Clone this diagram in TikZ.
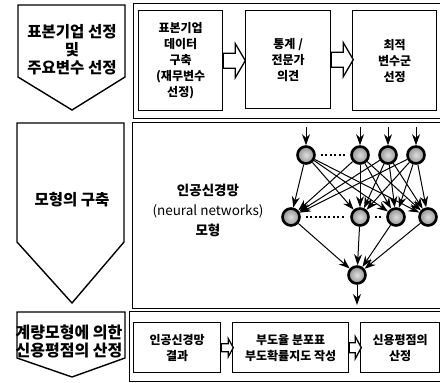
\documentclass[tikz,border=0pt]{standalone}
\usepackage{fontspec}
\setmainfont{Noto Sans CJK KR}
\usetikzlibrary{arrows.meta,calc}
\newcommand\hollowarr[5]{% #1 start, #2 length, #3 shaft half, #4 head half, #5 head length
  \draw[hollow] ($(#1)+(0,-#3)$) -- ++({#2-#5},0) -- ++(0,{-(#4-#3)})
    -- ($(#1)+(#2,0)$) -- ($(#1)+({#2-#5},#4)$) -- ++(0,{-(#4-#3)})
    -- ($(#1)+(0,#3)$) -- cycle;}
\begin{document}
\begin{tikzpicture}[x=1pt,y=-1pt,
  panel/.style={draw, line width=1.3pt, anchor=north west, inner sep=0pt},
  box/.style={draw, line width=1.3pt, anchor=north west, inner sep=1pt, align=center,
    font=\bfseries\fontsize{12}{16}\selectfont},
  penta/.style={draw, line width=1.4pt, fill=white},
  ptext/.style={align=center, inner sep=0pt},
  hollow/.style={draw, line width=1.3pt, fill=white, line join=miter},
  neuron/.style={circle, draw, line width=2.6pt, minimum size=17pt, inner sep=0pt,
    inner color=gray!25, outer color=gray!85},
  nnarrow/.style={line width=1pt, -{Stealth[length=11pt,width=8pt]}},
  dotline/.style={line width=2.2pt, dash pattern=on 2pt off 2.5pt, shorten <=5pt, shorten >=5pt}
]
\useasboundingbox (0,0) rectangle (440,383);

% ---------- left pentagon arrows ----------
\draw[penta] (18,5) -- (125,5) -- (125,77) -- (72,110) -- (18,77) -- cycle;
\draw[penta] (17,123) -- (124,123) -- (124,242) -- (72,303) -- (17,242) -- cycle;
\draw[penta] (17,312) -- (125,312) -- (125,358) -- (72,377) -- (17,358) -- cycle;

\node[ptext, font=\bfseries\fontsize{15.5}{18}\selectfont] (T1) at (72,50)
  {표본기업 선정\\및\\주요변수 선정};
\node[ptext, font=\bfseries\fontsize{15.5}{18}\selectfont] (T2) at (72,200) {모형의 구축};
\node[ptext, font=\bfseries\fontsize{16}{18}\selectfont] (T3) at (69,341)
  {계량모형에 의한\\신용평점의 산정};

% ---------- panels ----------
\node[panel, minimum width=312pt, minimum height=115pt] (P1) at (133,3) {};
\node[panel, minimum width=313pt, minimum height=186pt] (P2) at (132,122) {};
\node[panel, minimum width=316pt, minimum height=70pt] (P3) at (129,311) {};

% ---------- row 1 ----------
\node[box, minimum width=84pt, minimum height=100pt] (B1) at (138,10)
  {표본기업\\데이터\\구축\\(재무변수\\선정)};
\node[box, minimum width=85pt, minimum height=98pt] (B2) at (245,10)
  {통계 /\\전문가\\의견};
\node[box, minimum width=84pt, minimum height=100pt] (B3) at (352,10)
  {최적\\변수군\\선정};
\hollowarr{B1.east}{22}{7.5}{17}{10}
\hollowarr{B2.east}{22}{7.5}{17}{10}

% ---------- row 2 : neural network ----------
\node[ptext, font=\fontsize{13.5}{20}\selectfont] (NT) at (208,210)
  {\textbf{인공신경망}\\(neural networks)\\\textbf{모형}};

\node[neuron] (t1) at (306,155) {};
\node[neuron] (t2) at (360,155) {};
\node[neuron] (t3) at (388,155) {};
\node[neuron] (t4) at (416,155) {};
\node[neuron] (m1) at (291,217) {};
\node[neuron] (m2) at (360,217) {};
\node[neuron] (m3) at (396,217) {};
\node[neuron] (m4) at (428,217) {};
\node[neuron] (bo) at (357,275) {};

\coordinate (i1) at (306,127);
\coordinate (i2) at (360,127);
\coordinate (i3) at (388,127);
\coordinate (i4) at (416,127);
\coordinate (out) at (357,305);

\foreach \k in {1,...,4} {\draw[nnarrow] (i\k) -- (t\k);}
\foreach \a in {1,...,4} {
  \foreach \b in {1,...,4} {\draw[nnarrow] (t\a) -- (m\b);}
}
\foreach \a in {1,...,4} {\draw[nnarrow] (m\a) -- (bo);}
\draw[nnarrow] (bo) -- (out);

\draw[dotline] (t1) -- (t2);
\draw[dotline] (m1) -- (m2);
\draw[dotline] (m2) -- (m3);

% ---------- row 3 ----------
\node[box, minimum width=87pt, minimum height=50pt] (C1) at (133,322)
  {인공신경망\\결과};
\node[box, minimum width=116pt, minimum height=50pt] (C2) at (232,322)
  {부도율 분포표\\부도확률지도 작성};
\node[box, minimum width=79pt, minimum height=50pt] (C3) at (360,322)
  {신용평점의\\산정};
\hollowarr{C1.east}{12}{4}{9}{5}
\hollowarr{C2.east}{12}{5}{11}{6}
\end{tikzpicture}
\end{document}
